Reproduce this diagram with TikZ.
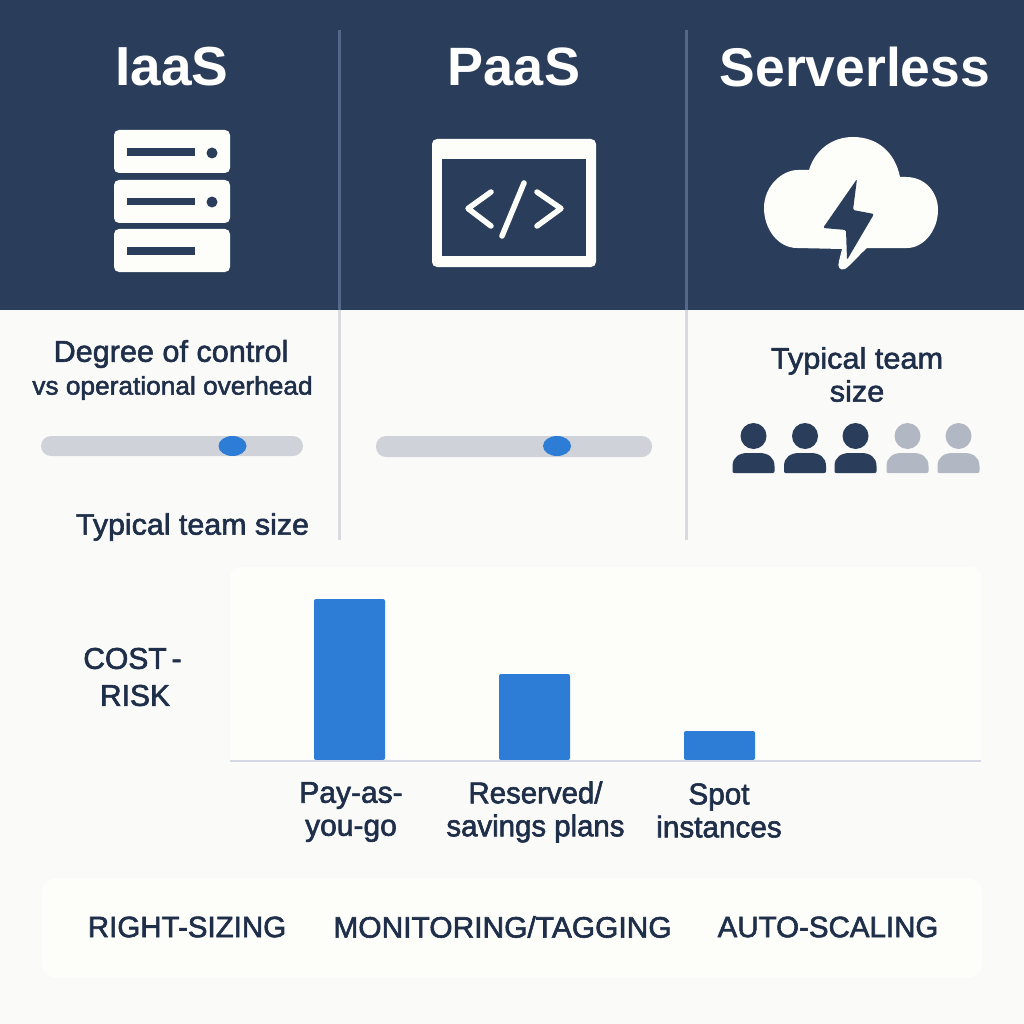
\documentclass[tikz,border=0pt]{standalone}
\usepackage{fontspec}
\setmainfont{Liberation Sans}
\newfontfamily\med[FakeBold=2.0]{Liberation Sans}
\newcommand{\lf}[2]{\med\addfontfeature{FakeStretch=#1}\fontsize{#2}{33}\selectfont}
\newcommand{\tf}[2]{\bfseries\addfontfeature{FakeStretch=#1}\fontsize{#2}{#2}\selectfont}
\definecolor{navy}{HTML}{2A3D5A}
\definecolor{ink}{HTML}{1F2F4A}
\definecolor{paper}{HTML}{FAFAF8}
\definecolor{card}{HTML}{FDFDFA}
\definecolor{divd}{HTML}{D8DADF}
\definecolor{divn}{HTML}{55688A}
\definecolor{track}{HTML}{CFD3D9}
\definecolor{knob}{HTML}{2D7DD6}
\definecolor{ghost}{HTML}{B2B8C3}
\definecolor{iconw}{HTML}{FDFDFA}
\definecolor{axisc}{HTML}{D4D8E4}
\tikzset{
 title/.style={text=white,anchor=center,inner sep=0pt},
 lab/.style={text=ink,align=center,anchor=center,inner sep=0pt},
 bar/.style={fill=knob,rounded corners=2pt},
 srv/.style={fill=iconw,rounded corners=5pt},
 slot/.style={fill=navy},
 trk/.style={fill=track,rounded corners=10pt},
 knb/.style={fill=knob},
 codeline/.style={iconw,line width=5.5pt,line cap=round,line join=round},
}
\newcommand{\person}[3]{%
 \fill[#3] (#1,#2-16) circle[radius=13];
 \fill[#3] (#1-19,#2+21) .. controls (#1-20.5,#2+21) and (#1-21,#2+20.5) .. (#1-21,#2+19)
  -- (#1-21,#2+14) .. controls (#1-21,#2+5) and (#1-14,#2+1) .. (#1-6,#2+1)
  -- (#1+6,#2+1) .. controls (#1+14,#2+1) and (#1+21,#2+5) .. (#1+21,#2+14)
  -- (#1+21,#2+19) .. controls (#1+21,#2+20.5) and (#1+20.5,#2+21) .. (#1+19,#2+21) -- cycle;
}
\begin{document}
\begin{tikzpicture}[x=1pt,y=-1pt]
\useasboundingbox (0,0) rectangle (1024,1024);
\fill[paper] (0,0) rectangle (1024,1024);
\fill[navy] (0,0) rectangle (1024,310);
% dividers
\coordinate (d1a) at (339.5,30); \coordinate (d1m) at (339.5,310); \coordinate (d1b) at (339.5,540);
\coordinate (d2a) at (686.5,30); \coordinate (d2m) at (686.5,310); \coordinate (d2b) at (686.5,540);
\draw[divn,line width=3pt] (d1a) -- (d1m);
\draw[divn,line width=3pt] (d2a) -- (d2m);
\draw[divd,line width=3pt] (d1m) -- (d1b);
\draw[divd,line width=3pt] (d2m) -- (d2b);
% titles
\node[title,font=\tf{1}{55}] (t1) at (172,67) {IaaS};
\node[title,font=\tf{1}{54}] (t2) at (514,67) {PaaS};
\node[title,font=\tf{0.98}{54.5}] (t3) at (855,67) {Serverless};
% server icon
\foreach \y/\s in {130/18.5,180/18,229/18}{
 \fill[srv] (114,\y) rectangle (230,\y+43);
 \fill[slot] (127,\y+\s) rectangle (195,\y+\s+7.5);
}
\fill[navy] (212,153) circle[radius=5.5];
\fill[navy] (212,202) circle[radius=5.5];
% window icon
\fill[iconw,rounded corners=5pt] (432,139) rectangle (596,267);
\fill[navy] (442,159) rectangle (586,256);
\draw[codeline] (491,192) -- (468,208.5) -- (491,226);
\draw[codeline] (537,192) -- (561,208.5) -- (537,226);
\draw[codeline] (524,183) -- (502,236);
% cloud
\fill[iconw] (797,248) .. controls (778,248) and (764,229) .. (764,208)
 .. controls (764,186) and (782,170) .. (798,170)
 -- (809,170)
 .. controls (815,150) and (832,137) .. (853,137)
 .. controls (877,137) and (895,152) .. (900,177)
 -- (906,177)
 .. controls (925,177) and (938,192) .. (938,210)
 .. controls (938,230) and (924,248) .. (907,248)
 -- (867,248) .. controls (858,256) and (851,265) .. (845,269)
 .. controls (840,271) and (837,267) .. (839,261)
 -- (842,249) -- cycle;
\fill[navy,rounded corners=1.5pt] (857,179) -- (823,228) -- (846,230) -- (847,260) -- (874,214) -- (853,210) -- cycle;
% labels
\node[lab,font=\lf{1.02}{30}] (l1) at (171,354) {Degree of control};
\node[lab,font=\lf{1.03}{25.5}] (l2) at (172.5,388) {vs operational overhead};
\node[lab,font=\lf{1.03}{29.5}] (l3) at (192.5,527) {Typical team size};
\node[lab,font=\lf{1.04}{29.5}] (l4) at (857,374.5) {Typical team\\size};
% sliders
\fill[trk] (41,436) rectangle (303,456);
\fill[knb] (232.5,446) ellipse[x radius=14,y radius=10];
\fill[trk] (376,436) rectangle (652,457);
\fill[knb] (557,446) ellipse[x radius=14,y radius=10];
% people
\person{753.5}{452}{navy}
\person{805}{452}{navy}
\person{855.5}{452}{navy}
\person{907.5}{452}{ghost}
\person{958.5}{452}{ghost}
% chart
\fill[card,rounded corners=10pt] (230,567) rectangle (981,770);
\fill[paper] (229,762) rectangle (982,771);
\fill[bar] (314,599) rectangle (385,760);
\fill[bar] (499,674) rectangle (570,760);
\fill[bar] (684,731) rectangle (755,760);
\coordinate (ax1) at (230,761); \coordinate (ax2) at (981,761);
\draw[axisc,line width=2.5pt] (ax1) -- (ax2);
\node[lab,font=\lf{1}{30}] (c1) at (132.5,677) {COST\,-\\[4pt]\hspace*{5pt}RISK};
\node[lab,font=\lf{1}{30}] (x1) at (351,812) {Pay-as-\\you-go};
\node[lab,font=\lf{0.98}{30}] (x2) at (535.5,812) {Reserved/\\savings plans};
\node[lab,font=\lf{0.99}{30}] (x3) at (719,810.5) {Spot\\instances};
% bottom card
\fill[card,rounded corners=14pt] (42,878) rectangle (982,978);
\node[lab,font=\lf{1}{29.5}] (b1) at (187,927) {RIGHT-SIZING};
\node[lab,font=\lf{1.015}{29.5}] (b2) at (502.5,927) {MONITORING/TAGGING};
\node[lab,font=\lf{1}{29.5}] (b3) at (828,927) {AUTO-SCALING};
\end{tikzpicture}
\end{document}
